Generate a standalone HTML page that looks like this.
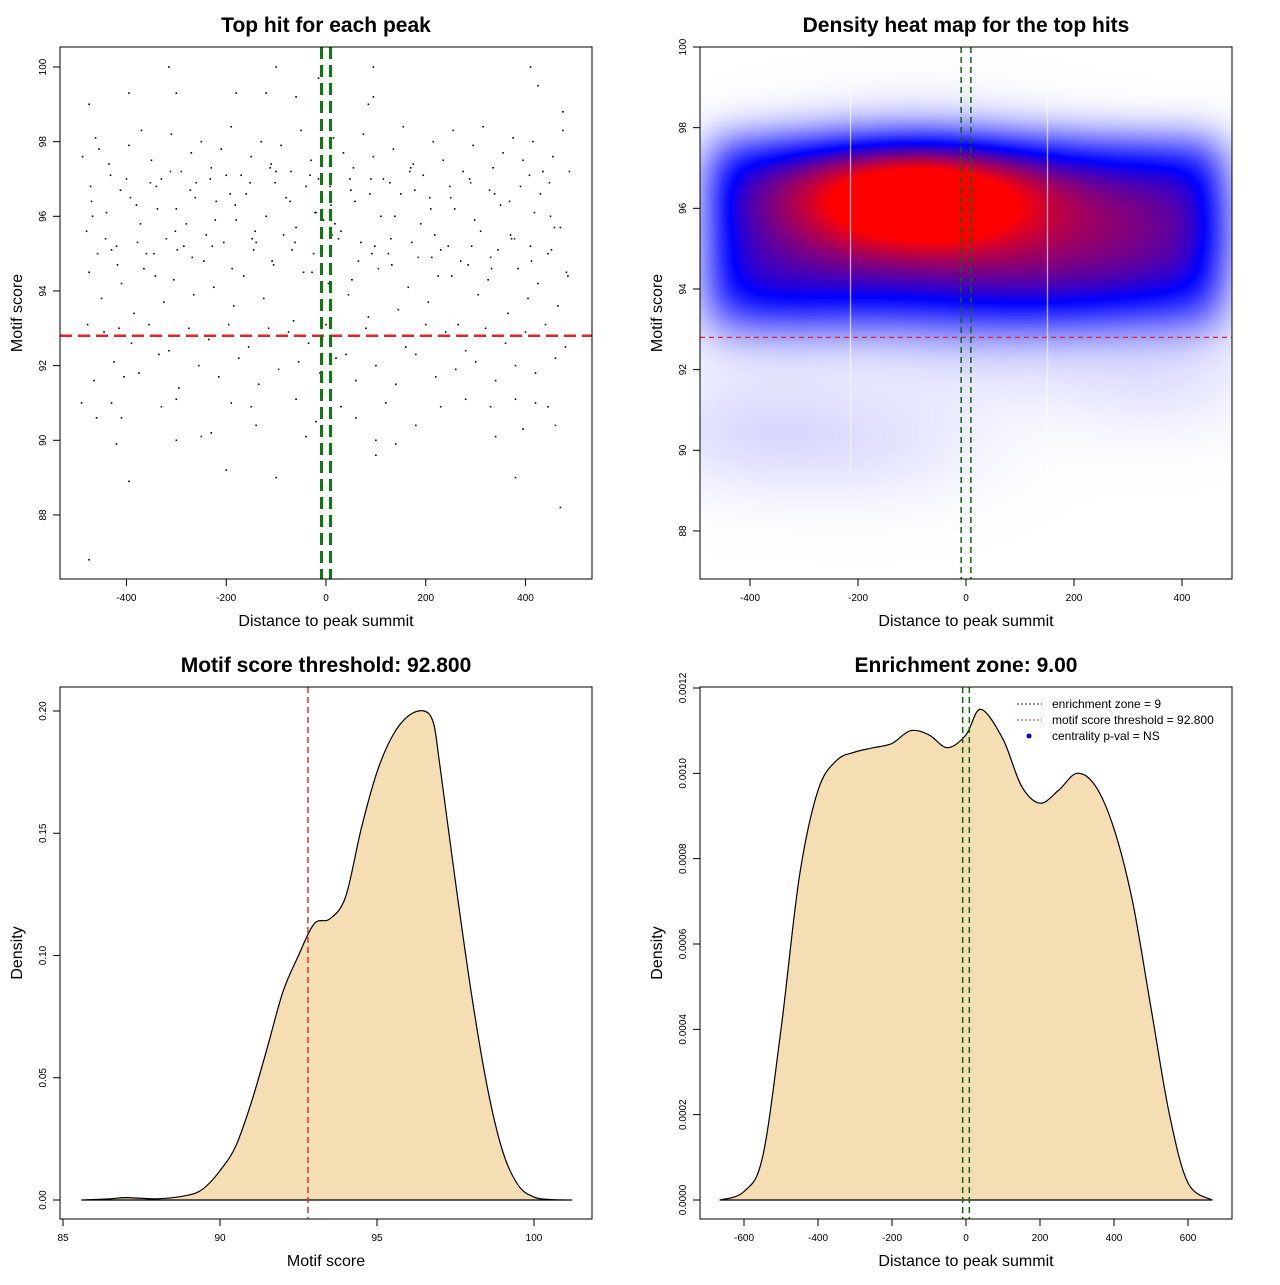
<!DOCTYPE html>
<html><head><meta charset="utf-8"><style>
html,body{margin:0;padding:0;background:#fff;}
svg text{font-family:"Liberation Sans",sans-serif;}
</style></head><body>
<svg id="root" width="1280" height="1280" viewBox="0 0 1280 1280" xmlns="http://www.w3.org/2000/svg">
<foreignObject x="700" y="47" width="532" height="532"><canvas xmlns="http://www.w3.org/1999/xhtml" id="heat" width="532" height="532" style="display:block"></canvas></foreignObject>
</svg>
<script>
// ---------- DATA ----------
const peakX = [-480,-470,-455,-440,-420,-400,-380,-360,-340,-320,-300,-280,-260,-240,-220,-200,-180,-160,-140,-120,-100,-80,-60,-40,-20,-5,10,30,50,70,90,110,130,150,170,190,210,230,250,270,290,310,330,350,370,390,410,430,450,470,
 -475,-450,-430,-410,-385,-365,-345,-325,-305,-285,-265,-245,-225,-205,-185,-165,-145,-125,-105,-85,-65,-45,-25,-10,5,25,45,65,85,105,125,145,165,185,205,225,245,265,285,305,325,345,365,385,405,425,445,465,485,
 -488,-462,-435,-395,-370,-350,-330,-310,-290,-270,-250,-230,-210,-190,-170,-150,-130,-110,-90,-70,-50,-30,-15,15,35,55,75,95,115,135,155,175,195,215,235,255,275,295,315,335,355,375,395,415,435,455,475,
 -478,-445,-415,-390,-355,-315,-275,-235,-195,-155,-115,-75,-35,0,40,80,120,160,200,240,280,320,360,400,440,480,
 -465,-425,-375,-335,-295,-255,-215,-175,-135,-95,-55,-12,20,60,100,140,180,220,260,300,340,380,420,460,
 -430,-410,-300,-250,-190,-140,-60,-20,60,120,180,280,340,380,420,-490,-460,-405,-330,-230,-150,-40,30,100,230,330,395,445,
 -420,-395,-300,-200,-100,100,140,380,460,-475,-395,-300,-180,-60,-120,-15,85,95,425,475,
 -468,-442,-412,-372,-338,-298,-262,-222,-182,-142,-102,-62,-22,18,58,98,138,178,218,258,298,338,378,418,458,
 -458,-418,-378,-342,-302,-268,-228,-188,-148,-108,-68,-28,12,52,92,132,172,212,252,292,332,372,412,452,482,
 -472,-432,-392,-352,-312,-272,-232,-192,-152,-112,-72,-32,8,48,88,128,168,208,248,288,328,368,408,448,488];
const peakScore = [95.6,96.4,97.8,96.1,95.2,97.0,96.3,95.0,96.8,95.4,96.2,95.8,96.9,95.5,96.4,97.1,95.9,96.6,95.3,96.0,97.2,96.5,95.7,96.8,96.1,95.9,96.3,95.6,96.7,95.3,97.0,96.0,95.4,96.6,97.3,95.8,96.2,95.1,96.5,94.8,96.9,95.6,94.9,96.3,95.5,96.8,95.2,96.6,96.0,95.7,
 94.5,93.8,95.1,94.2,93.4,94.6,95.0,93.7,94.3,95.2,93.9,94.8,94.1,95.3,93.6,94.4,95.1,93.8,94.7,95.5,93.2,94.5,95.0,93.6,94.2,95.4,93.9,94.8,93.3,94.6,95.0,93.5,94.1,94.9,93.7,94.4,95.2,93.1,94.7,93.9,94.3,95.1,93.4,94.6,93.8,94.2,95.0,93.6,94.4,
 97.6,98.1,97.4,97.9,98.3,97.5,97.0,98.2,97.2,97.7,98.0,97.3,97.8,98.4,97.1,97.6,98.0,97.4,97.9,97.2,98.3,97.5,97.0,98.1,97.7,97.3,98.2,97.6,97.0,97.8,98.4,97.4,97.1,98.0,97.5,98.3,97.2,97.9,98.4,97.3,97.7,98.1,97.5,98.0,97.2,97.6,98.3,
 93.1,92.9,93.0,92.6,93.1,92.4,93.0,92.7,93.1,92.5,93.0,92.9,92.6,93.1,92.3,93.0,92.8,92.5,93.1,92.9,92.4,93.0,92.6,92.9,93.1,92.5,
 91.6,92.1,91.8,92.3,91.4,92.0,91.7,92.2,91.5,91.9,92.1,91.8,92.2,91.6,92.0,91.5,92.3,91.7,91.9,92.1,91.6,92.0,91.8,92.2,
 91.0,90.6,91.1,90.1,91.0,90.4,91.1,90.5,90.6,91.0,90.4,91.1,90.1,91.1,91.0,91.0,90.6,91.7,90.9,90.2,90.9,90.1,90.9,90.0,90.9,90.9,90.3,90.9,
 89.9,88.9,90.0,89.2,89.0,89.6,89.9,89.0,90.4,99.0,99.3,99.3,99.3,99.2,99.3,99.7,99.0,99.2,99.5,98.8,
 96.0,95.4,96.7,95.8,96.2,95.1,96.5,95.9,96.3,95.6,96.9,95.3,96.1,95.8,96.4,95.2,96.0,96.7,95.5,96.2,95.9,96.6,95.4,96.1,95.7,
 95.0,94.7,95.3,94.4,95.6,94.9,95.2,94.6,95.4,94.8,95.1,94.5,95.5,94.3,95.0,94.7,95.3,94.9,94.4,95.2,94.6,95.4,94.8,95.1,94.5,
 96.8,97.1,96.5,96.9,97.2,96.7,97.0,96.6,96.9,97.3,96.4,97.1,96.8,97.0,96.6,96.9,97.2,96.5,96.8,97.0,96.7,96.4,97.1,96.9,97.2];
const outX = [-475,-315,-100,95,410,470];
const outY = [86.8,100.0,100.0,100.0,100.0,88.2];

const scoreX = [85.6,86.5,87.0,88.0,89.0,89.5,90.0,90.5,91.0,91.5,92.0,92.5,93.0,93.5,94.0,94.5,95.0,95.5,96.0,96.5,96.8,97.0,97.5,98.0,98.5,99.0,99.5,100.0,100.5,101.2];
const scoreD = [0,0.0005,0.001,0.0005,0.002,0.005,0.012,0.022,0.04,0.062,0.085,0.1,0.113,0.115,0.124,0.152,0.175,0.19,0.198,0.2,0.195,0.178,0.13,0.085,0.047,0.02,0.006,0.0012,0.0002,0];

const distX = [-665,-600,-550,-500,-450,-400,-350,-300,-250,-200,-150,-100,-50,0,40,100,150,200,250,300,350,400,450,500,550,600,665];
const distD = [0,0.00002,0.0001,0.0004,0.00076,0.00096,0.00103,0.00105,0.00106,0.00107,0.0011,0.00109,0.00106,0.00109,0.00115,0.00108,0.00097,0.00093,0.00096,0.001,0.00097,0.00087,0.0007,0.00045,0.0002,0.00004,0];

const heatBlobX = [-110,10,-230,310,-350,150,-400,-150,350,0];
const heatBlobY = [96.4,96.1,96.1,95.6,93.5,94.0,90.5,90.2,92.0,92.8];
const heatBlobW = [1.0,0.9,0.55,0.45,0.25,0.25,0.22,0.15,0.2,0.2];

const threshold = 92.8, zone = 9;
const xTicksA = [-400,-200,0,200,400];
const yTicksA = [88,90,92,94,96,98,100];
const xTicksC = [85,90,95,100];
const yTicksC = [0,0.05,0.10,0.15,0.20];
const yTicksCLab = ["0.00","0.05","0.10","0.15","0.20"];
const xTicksD = [-600,-400,-200,0,200,400,600];
const yTicksD = [0,0.0002,0.0004,0.0006,0.0008,0.0010,0.0012];
const yTicksDLab = ["0.0000","0.0002","0.0004","0.0006","0.0008","0.0010","0.0012"];

// ---------- HELPERS ----------
const NS="http://www.w3.org/2000/svg";
const root=document.getElementById('root');
function mk(tag,attrs,parent){const e=document.createElementNS(NS,tag);for(const k in attrs)e.setAttribute(k,attrs[k]);(parent||root).appendChild(e);return e;}
function txt(x,y,s,size,attrs,parent){const e=mk('text',Object.assign({x:x,y:y,'font-size':size,'text-anchor':'middle',fill:'#000'},attrs||{}),parent);e.textContent=s;return e;}
function smoothPath(pts){
  let d='M'+pts[0][0].toFixed(1)+','+pts[0][1].toFixed(1);
  for(let i=0;i<pts.length-1;i++){
    const p0=pts[Math.max(0,i-1)],p1=pts[i],p2=pts[i+1],p3=pts[Math.min(pts.length-1,i+2)];
    const c1x=p1[0]+(p2[0]-p0[0])/6,c1y=p1[1]+(p2[1]-p0[1])/6;
    const c2x=p2[0]-(p3[0]-p1[0])/6,c2y=p2[1]-(p3[1]-p1[1])/6;
    d+=' C'+c1x.toFixed(1)+','+c1y.toFixed(1)+' '+c2x.toFixed(1)+','+c2y.toFixed(1)+' '+p2[0].toFixed(1)+','+p2[1].toFixed(1);
  }
  return d;
}

function axes(box,sx,sy,xt,xl,yt,yl,title,xlab,ylab,prefix){
  const g=mk('g',{});
  
  
  const r=mk('rect',{x:box.x0,y:box.y0,width:box.x1-box.x0,height:box.y1-box.y0,fill:'none',stroke:'#000','stroke-width':1},g);
  
  
  xt.forEach((v,i)=>{const x=sx(v);
    mk('line',{x1:x,x2:x,y1:box.y1,y2:box.y1+7,stroke:'#000'},g);
    const t=txt(x,box.y1+22,xl[i],10,{},g);
    
    });
  mk('line',{x1:sx(xt[0]),x2:sx(xt[xt.length-1]),y1:box.y1,y2:box.y1,stroke:'#000'},g);
  yt.forEach((v,i)=>{const y=sy(v);
    mk('line',{x1:box.x0-7,x2:box.x0,y1:y,y2:y,stroke:'#000'},g);
    const t=txt(box.x0-14,y,yl[i],10,{transform:`rotate(-90 ${box.x0-14} ${y})`},g);
    
    });
  mk('line',{x1:box.x0,x2:box.x0,y1:sy(yt[0]),y2:sy(yt[yt.length-1]),stroke:'#000'},g);
  const cx=(box.x0+box.x1)/2, cy=(box.y0+box.y1)/2;
  const tt=txt(cx,box.y0-15,title,21,{'font-weight':'bold'},g);
  
  
  const xa=txt(cx,box.y1+47,xlab,16,{},g);
  
  
  const ya=txt(box.x0-38,cy,ylab,16,{transform:`rotate(-90 ${box.x0-38} ${cy})`},g);
  
  
}

// ---------- PANEL A: scatter ----------
(function(){
  const box={x0:60,x1:592,y0:47,y1:579};
  const sx=v=>326+v*0.4988, sy=v=>67+(100-v)*37.33;
  const g=mk('g',{});
  
  
  peakX.forEach((x,i)=>{const c=mk('rect',{x:sx(x)-0.8,y:sy(peakScore[i])-0.8,width:1.6,height:1.6,fill:'#000'},g);
    
    });
  outX.forEach((x,i)=>{const c=mk('rect',{x:sx(x)-0.8,y:sy(outY[i])-0.8,width:1.6,height:1.6,fill:'#000'},g);
    
    });
  const h=mk('line',{x1:box.x0,x2:box.x1,y1:sy(threshold),y2:sy(threshold),stroke:'#e0262a','stroke-width':2.5,'stroke-dasharray':'12,6'});
  
  
  [-zone,zone].forEach(z=>{const l=mk('line',{x1:sx(z),x2:sx(z),y1:box.y0,y2:box.y1,stroke:'#0a7a0a','stroke-width':3,'stroke-dasharray':'12,6'});
    
    });
  axes(box,sx,sy,xTicksA,xTicksA.map(String),yTicksA,yTicksA.map(String),'Top hit for each peak','Distance to peak summit','Motif score','scatter');
})();

// ---------- PANEL B: heatmap ----------
(function(){
  const box={x0:700,x1:1232,y0:47,y1:579};
  const sx=v=>966+v*0.54, sy=v=>47+(100-v)*40.33;
  const ix=px=>(px+box.x0-966)/0.54, iy=py=>100-(py)/40.33;
  const cv=document.getElementById('heat'),ctx=cv.getContext('2d');
  const img=ctx.createImageData(532,532);
  for(let py=0;py<532;py++){const yv=iy(py);
    for(let px=0;px<532;px++){const xv=ix(px);
      const ex=1/(1+Math.exp((Math.abs(xv)-470)/25));
      const dy=yv-95.6;
      const band=ex*Math.exp(-Math.pow(dy/(dy>0?2.0:2.3),4)*0.7);
      let d=band*0.53;
      for(let k=0;k<heatBlobX.length;k++){
        const a=(xv-heatBlobX[k])/145, b=(yv-heatBlobY[k])/1.05;
        d+=heatBlobW[k]*0.28*Math.exp(-(a*a+b*b)/2);
      }
      let r,gg,bb;
      if(d<0.5){const t=Math.min(1,d/0.5);r=255*(1-t);gg=255*(1-t);bb=255;}
      else{const t=Math.min(1,(d-0.5)/0.4);r=255*t;gg=0;bb=255*(1-t);}
      const o=(py*532+px)*4;img.data[o]=r;img.data[o+1]=gg;img.data[o+2]=bb;img.data[o+3]=255;
    }}
  ctx.putImageData(img,0,0);
  ctx.strokeStyle='rgba(255,255,255,0.85)';ctx.lineWidth=1;
  [-215,150].forEach(v=>{const x=Math.round(sx(v)-box.x0)+0.5;ctx.beginPath();ctx.moveTo(x,0);ctx.lineTo(x,425);ctx.stroke();});
  const h=mk('line',{x1:box.x0,x2:box.x1,y1:sy(threshold),y2:sy(threshold),stroke:'#e0262a','stroke-width':1.2,'stroke-dasharray':'5,4'});
  
  
  [-zone,zone].forEach(z=>{const l=mk('line',{x1:sx(z),x2:sx(z),y1:box.y0,y2:box.y1,stroke:'#0a6a0a','stroke-width':1.5,'stroke-dasharray':'6,4'});
    
    });
  axes(box,sx,sy,xTicksA,xTicksA.map(String),yTicksA,yTicksA.map(String),'Density heat map for the top hits','Distance to peak summit','Motif score','heatmap');
})();

// ---------- PANEL C: score density ----------
(function(){
  const box={x0:60,x1:592,y0:687,y1:1219};
  const sx=v=>63+(v-85)*31.4, sy=v=>1200-v*2445;
  const pts=scoreX.map((x,i)=>[sx(x),sy(scoreD[i])]);
  const d=smoothPath(pts)+' Z';
  const p=mk('path',{d:d,fill:'#f5deb3',stroke:'#000','stroke-width':1.2,'stroke-linejoin':'round'});
  
  
  const l=mk('line',{x1:sx(threshold),x2:sx(threshold),y1:box.y0,y2:box.y1,stroke:'#d0383c','stroke-width':1.5,'stroke-dasharray':'6,4'});
  
  
  axes(box,sx,sy,xTicksC,xTicksC.map(String),yTicksC,yTicksCLab,'Motif score threshold: 92.800','Motif score','Density','score');
})();

// ---------- PANEL D: distance density ----------
(function(){
  const box={x0:700,x1:1232,y0:687,y1:1219};
  const sx=v=>966+v*0.37, sy=v=>1200-v*426667;
  const pts=distX.map((x,i)=>[sx(x),sy(distD[i])]);
  const d=smoothPath(pts)+' Z';
  const p=mk('path',{d:d,fill:'#f5deb3',stroke:'#000','stroke-width':1.2,'stroke-linejoin':'round'});
  
  
  [-zone,zone].forEach(z=>{const l=mk('line',{x1:sx(z),x2:sx(z),y1:box.y0,y2:box.y1,stroke:'#0a6a0a','stroke-width':1.5,'stroke-dasharray':'6,4'});
    
    });
  const lg=mk('g',{});
  
  
  const items=[['enrichment zone = 9','#333','dot'],['motif score threshold = 92.800','#e0262a','dot'],['centrality p-val = NS','#0000ff','pt']];
  items.forEach((it,i)=>{const y=704+i*16;
    if(it[2]==='dot'){mk('line',{x1:1017,x2:1042,y1:y,y2:y,stroke:it[1],'stroke-width':1,'stroke-dasharray':'2,2'},lg);}
    else{mk('circle',{cx:1029,cy:y,r:2.5,fill:it[1]},lg);}
    const t=txt(1052,y+4,it[0],12,{'text-anchor':'start'},lg);
    
    });
  axes(box,sx,sy,xTicksD,xTicksD.map(String),yTicksD,yTicksDLab,'Enrichment zone: 9.00','Distance to peak summit','Density','distance');
})();
</script>
</body></html>
